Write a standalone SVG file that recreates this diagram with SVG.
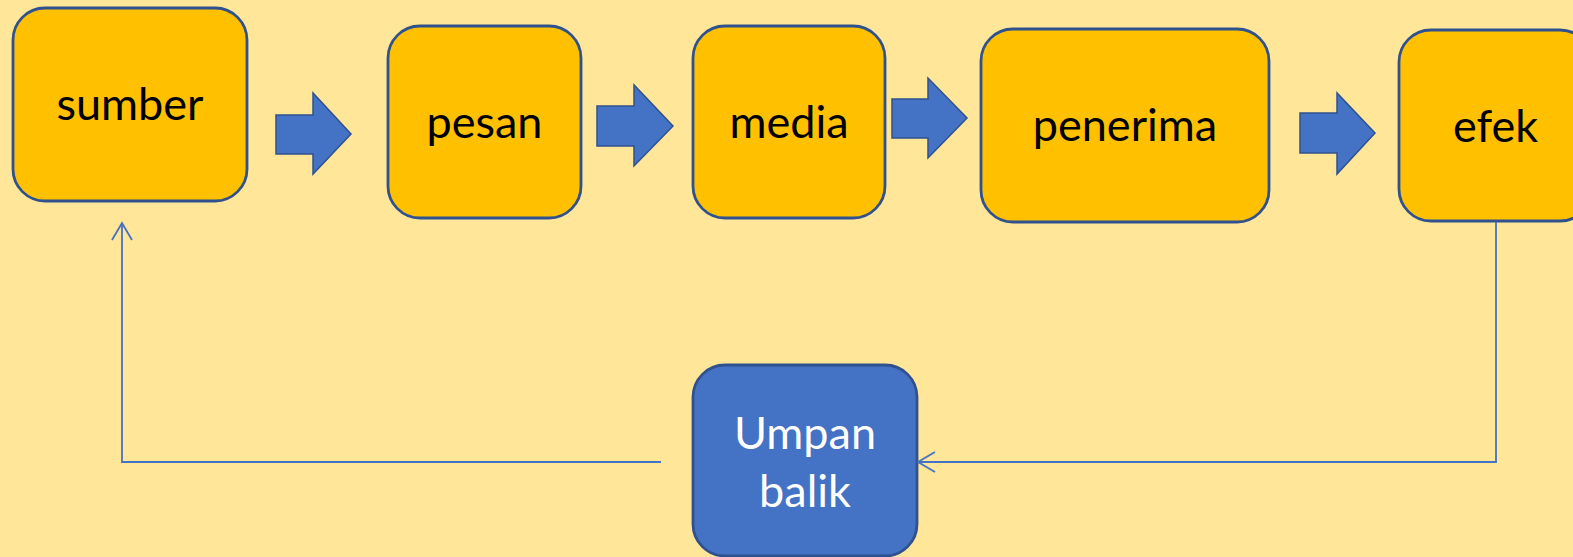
<svg xmlns="http://www.w3.org/2000/svg" width="1573" height="557" viewBox="0 0 1573 557">
<style>
.box{fill:#FFC000;stroke:#2F528F;stroke-width:2.8}
.fb{fill:#4472C4;stroke:#2F528F;stroke-width:2.8}
.arr{fill:#4472C4;stroke:#2F528F;stroke-width:1.5}
.t{font-family:Lato,"Open Sans",sans-serif;font-size:45px;fill:#000;text-anchor:middle}
.tw{font-family:Lato,"Open Sans",sans-serif;font-size:45px;fill:#fff;text-anchor:middle}
.con{fill:none;stroke:#4472C4;stroke-width:1.8}
</style>
<defs>
<marker id="open" markerUnits="userSpaceOnUse" markerWidth="22" markerHeight="24" refX="18" refY="11" orient="auto" viewBox="0 0 22 24">
<path d="M1,1 L18,11 L1,21" fill="none" stroke="#4472C4" stroke-width="1.8"/>
</marker>
</defs>
<rect width="1573" height="557" fill="#FFE699"/>
<g id="sumber"><rect class="box" x="13" y="8" width="234" height="193" rx="32"/><text class="t" x="130" y="120">sumber</text></g>
<g id="pesan"><rect class="box" x="388" y="26" width="193" height="192" rx="32"/><text class="t" x="484.5" y="138">pesan</text></g>
<g id="media"><rect class="box" x="693" y="26" width="192" height="192" rx="32"/><text class="t" x="789" y="138">media</text></g>
<g id="penerima"><rect class="box" x="981" y="29" width="288" height="193" rx="32"/><text class="t" x="1125" y="141">penerima</text></g>
<g id="efek"><rect class="box" x="1399" y="30" width="193" height="191" rx="32"/><text class="t" x="1495.5" y="142">efek</text></g>
<g id="umpan-balik"><rect class="fb" x="693" y="365" width="224" height="191" rx="32"/><text class="tw" x="805" y="449">Umpan</text><text class="tw" x="805" y="507">balik</text></g>
<g id="connectors">
<path class="arr" d="M276,115 H313 V93 L351,134 L313,174 V154 H276 Z"/>
<path class="arr" d="M597,106 H634 V85 L673,126 L634,166 V146 H597 Z"/>
<path class="arr" d="M892,99 H928 V78 L967,118 L928,158 V138 H892 Z"/>
<path class="arr" d="M1300,113 H1337 V93 L1375,133 L1337,174 V153 H1300 Z"/>
<path class="con" d="M1496,222 V462 H918" marker-end="url(#open)"/>
<path class="con" d="M661,462 H122 V223" marker-end="url(#open)"/>
</g>
</svg>
